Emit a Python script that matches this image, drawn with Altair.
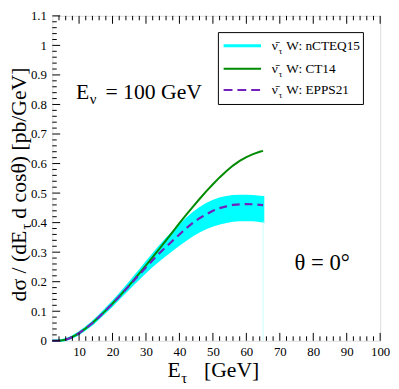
import altair as alt
import pandas as pd

FONT = "'Liberation Serif', 'Times New Roman', 'DejaVu Serif', serif"

# ---------------- data ----------------
E = [2, 3, 4, 5, 6, 7, 8, 9, 10, 12, 14, 16, 18, 20, 22, 24, 26, 28, 30, 32, 34, 36,
     38, 40, 42, 44, 46, 48, 50, 52, 54, 56, 58, 60, 62, 64, 65]
ct14 = [0, 0, 0.0003, 0.0015, 0.004, 0.008, 0.013, 0.019, 0.026, 0.042, 0.060, 0.081,
        0.103, 0.126, 0.150, 0.175, 0.201, 0.228, 0.255, 0.283, 0.311, 0.340, 0.369,
        0.398, 0.426, 0.453, 0.480, 0.506, 0.530, 0.553, 0.574, 0.593, 0.609, 0.622,
        0.632, 0.640, 0.643]
epps21 = [0, 0, 0.0003, 0.0015, 0.004, 0.008, 0.013, 0.019, 0.026, 0.042, 0.060, 0.081,
          0.103, 0.126, 0.150, 0.174, 0.199, 0.224, 0.249, 0.273, 0.296, 0.318, 0.339,
          0.360, 0.381, 0.399, 0.415, 0.428, 0.440, 0.449, 0.455, 0.460, 0.462, 0.463,
          0.462, 0.460, 0.459]
ncteq_hi = [0, 0, 0.0006, 0.002, 0.005, 0.009, 0.014, 0.021, 0.028, 0.044, 0.063, 0.084,
            0.107, 0.131, 0.156, 0.182, 0.209, 0.236, 0.264, 0.291, 0.318, 0.343, 0.367,
            0.390, 0.411, 0.431, 0.448, 0.462, 0.473, 0.481, 0.486, 0.489, 0.490, 0.490,
            0.489, 0.487, 0.486]
ncteq_lo = [0, 0, 0, 0.001, 0.003, 0.007, 0.012, 0.017, 0.024, 0.040, 0.057, 0.078,
            0.099, 0.121, 0.144, 0.167, 0.190, 0.212, 0.234, 0.255, 0.274, 0.292, 0.310,
            0.327, 0.343, 0.358, 0.371, 0.382, 0.391, 0.398, 0.403, 0.407, 0.409, 0.410,
            0.409, 0.406, 0.404]

x_labels = [10, 20, 30, 40, 50, 60, 70, 80, 90, 100]
x_minor = [v for v in range(4, 100, 2) if v % 10 != 0]
y_labels = [0, 0.1, 0.2, 0.3, 0.4, 0.5, 0.6, 0.7, 0.8, 0.9, 1, 1.1]
y_minor = [round(i * 0.02, 2) for i in range(1, 55) if i % 5 != 0]

W, H = 333, 330
XS = alt.Scale(domain=[2, 100], nice=False, zero=False)
YS = alt.Scale(domain=[0, 1.1], nice=False, zero=False)
AX = alt.Axis(values=x_labels, ticks=False, domain=False, grid=False,
              labelFont=FONT, labelFontSize=13, labelColor="black",
              labelPadding=5, labelFlush=False, labelOverlap=False, title=None)
AY = alt.Axis(values=y_labels, format="~g", ticks=False, domain=False,
              grid=False, labelFont=FONT, labelFontSize=13,
              labelColor="black", labelPadding=6, labelOverlap=False, title=None)

df = pd.DataFrame({"E": E, "ct14": ct14, "epps": epps21, "hi": ncteq_hi, "lo": ncteq_lo})

band = alt.Chart(df).mark_area(color="#00FFFF", stroke="#00FFFF", strokeWidth=2.5).encode(
    x=alt.X("E:Q", scale=XS, axis=AX),
    y=alt.Y("lo:Q", scale=YS, axis=AY),
    y2="hi:Q",
)

edge = alt.Chart(df.tail(1)).mark_rule(color="#C8FFFF", strokeWidth=1).encode(
    x=alt.X("E:Q", scale=XS, axis=AX),
    y=alt.Y("lo:Q", scale=YS, axis=AY),
    y2=alt.datum(0),
)

green = alt.Chart(df).mark_line(color="#008B00", strokeWidth=2).encode(
    x=alt.X("E:Q", scale=XS, axis=AX),
    y=alt.Y("ct14:Q", scale=YS, axis=AY),
)

dashed = alt.Chart(df).mark_line(color="#7221BC", strokeWidth=2.2, strokeDash=[8, 5]).encode(
    x=alt.X("E:Q", scale=XS, axis=AX),
    y=alt.Y("epps:Q", scale=YS, axis=AY),
)

# ---------------- inward ticks ----------------
def xticks(vals, y0, y1):
    return alt.Chart(pd.DataFrame({"v": vals})).mark_rule(color="black", strokeWidth=1).encode(
        x=alt.X("v:Q", scale=XS, axis=AX), y=alt.value(y0), y2=alt.value(y1))


def yticks(vals, x0, x1):
    return alt.Chart(pd.DataFrame({"v": vals})).mark_rule(color="black", strokeWidth=1).encode(
        y=alt.Y("v:Q", scale=YS, axis=AY), x=alt.value(x0), x2=alt.value(x1))


ticks = [
    xticks(x_labels, H, H - 8), xticks(x_minor, H, H - 4.5),
    xticks(x_labels, 0, 8), xticks(x_minor, 0, 4.5),
    yticks(y_labels, 0, 8), yticks(y_minor, 0, 4.5),
]

# ---------------- texts ----------------
def txt(s, x, y, size, angle=0, align="left", color="black"):
    return alt.Chart(pd.DataFrame({"a": [0]})).mark_text(
        text=s, align=align, baseline="alphabetic", font=FONT, fontSize=size,
        angle=angle, color=color).encode(x=alt.value(x), y=alt.value(y))


texts = [
    # y title (rotated)
    txt("dσ / (dE", -27, 290, 22, angle=270),
    txt("τ", -22, 217, 15, angle=270),
    txt("d cosθ) [pb/GeV]", -27, 206, 22, angle=270),
    # x title
    txt("E", 117, 367, 22),
    txt("τ", 131, 373, 15),
    txt("[GeV]", 154, 367, 22),
    # annotations
    txt("E", 24, 84, 22),
    txt("ν", 38, 90, 15),
    txt("= 100 GeV", 54, 84, 22),
    txt("θ = 0°", 246, 258, 23),
]

# ---------------- legend ----------------
legend_box = alt.Chart(pd.DataFrame({"a": [0]})).mark_rect(
    fill="white", stroke="black", strokeWidth=1).encode(
    x=alt.value(168.7), x2=alt.value(316), y=alt.value(17), y2=alt.value(90))

legend_names = ["W: nCTEQ15", "W: CT14", "W: EPPS21"]
line_y = [30.3, 53.7, 75.3]
text_y = [34.7, 57.7, 79.3]
legend_layers = [legend_box]
legend_layers.append(alt.Chart(pd.DataFrame({"a": [0]})).mark_rule(color="#00FFFF", strokeWidth=3).encode(
    x=alt.value(174), x2=alt.value(212), y=alt.value(line_y[0])))
legend_layers.append(alt.Chart(pd.DataFrame({"a": [0]})).mark_rule(color="#008B00", strokeWidth=2).encode(
    x=alt.value(174), x2=alt.value(212), y=alt.value(line_y[1])))
legend_layers.append(alt.Chart(pd.DataFrame({"a": [0]})).mark_rule(
    color="#7221BC", strokeWidth=2.2, strokeDash=[9, 5]).encode(
    x=alt.value(174), x2=alt.value(212), y=alt.value(line_y[2])))
for name, ty in zip(legend_names, text_y):
    legend_layers.append(txt("ν\u0304", 223, ty, 13.5))
    legend_layers.append(txt("τ", 230, ty + 4, 9))
    legend_layers.append(txt(name, 237.7, ty, 13.5))

chart = alt.layer(band, edge, green, dashed, *ticks, *texts, *legend_layers).properties(
    width=W, height=H,
    autosize=alt.AutoSizeParams(type="none"),
    padding={"left": 45, "top": 5, "right": 11, "bottom": 46},
).configure_view(stroke="black", strokeWidth=1.3).configure(background="white")

chart.save("out.html", embed_options={"renderer": "svg", "actions": False})
